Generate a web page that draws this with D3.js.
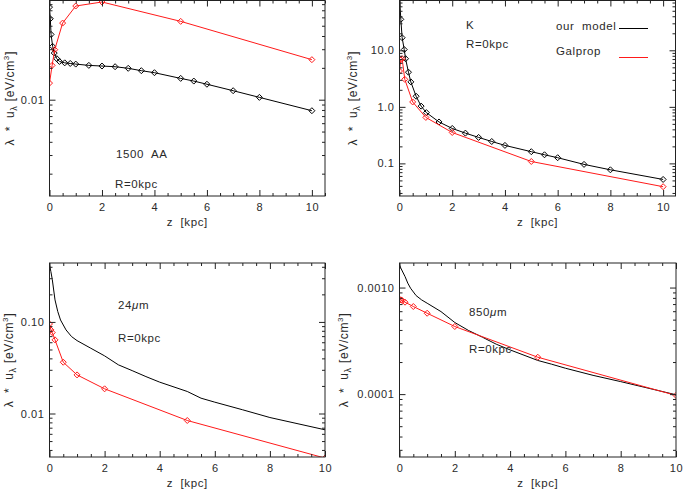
<!DOCTYPE html>
<html><head><meta charset="utf-8">
<script src="https://cdn.jsdelivr.net/npm/d3@7"></script>
<style>
body{margin:0;background:#fff;}
text{font-family:"Liberation Sans",Arial,Helvetica,sans-serif;fill:#2a2a2a;white-space:pre;letter-spacing:0.6px;}
</style></head>
<body>
<script>
// ---------- data ----------
const zModelGrid = [0, 0.05, 0.1, 0.2, 0.3, 0.4, 0.6, 0.8, 1, 1.5, 2, 2.5, 3, 3.5, 4, 5, 5.5, 6, 7, 8, 10];
const zGalpropGrid = [0, 0.05, 0.1, 0.2, 0.5, 1, 2, 5, 10];

const z1500Model = [0, 0.03, 0.06, 0.12, 0.18, 0.28, 0.38, 0.58, 0.79, 1, 1.5, 2, 2.5, 3, 3.5, 4, 5, 5.5, 6, 7, 8, 10];
const u1500Model = [0.075, 0.0582, 0.0414, 0.0319, 0.0276, 0.0244, 0.0230, 0.0223, 0.0220, 0.0217, 0.0211, 0.0208, 0.0205, 0.0198, 0.0188, 0.0180, 0.0159, 0.0150, 0.0140, 0.01216, 0.01052, 0.00787];
const z1500Galprop = [0, 0.1, 0.2, 0.5, 1, 2, 5, 10];
const u1500Galprop = [0.01436, 0.0211, 0.0297, 0.0530, 0.0768, 0.0838, 0.0550, 0.0239];

const zKModel = [0, 0.05, 0.1, 0.18, 0.23, 0.34, 0.43, 0.63, 0.82, 1.02, 1.5, 2, 2.5, 3, 3.5, 4, 5, 5.5, 6, 7, 8, 10];
const uKModel = [90, 35.3, 16.7, 10.3, 7.1, 4.1, 2.76, 1.54, 1.03, 0.79, 0.54, 0.415, 0.343, 0.288, 0.244, 0.208, 0.161, 0.142, 0.126, 0.096, 0.077, 0.052];
const uKGalprop = [4.3, 6.8, 7.1, 3.07, 1.22, 0.65, 0.352, 0.108, 0.0387];

const u24Model = [0.419, 0.354, 0.292, 0.174, 0.130, 0.105, 0.0818, 0.0692, 0.0625, 0.0516, 0.0426, 0.0340, 0.0294, 0.0253, 0.0220, 0.0174, 0.0147, 0.0133, 0.0110, 0.00904, 0.00664];
const u24Galprop = [0.095, 0.0818, 0.0765, 0.0637, 0.0363, 0.0264, 0.0186, 0.00839, 0.00326];

const u850Model = [0.00163, 0.00152, 0.00143, 0.00127, 0.00110, 0.000986, 0.000841, 0.000766, 0.000713, 0.000595, 0.000470, 0.000395, 0.000342, 0.000294, 0.000260, 0.000207, 0.000191, 0.000175, 0.000150, 0.000131, 0.0000986];
const u850Galprop = [0.000778, 0.000766, 0.000755, 0.000729, 0.000664, 0.000574, 0.000431, 0.000222, 0.0000972];

const xTicks = [0, 2, 4, 6, 8, 10];
const yTicks1500 = [0.01], yLabels1500 = ["0.01"];
const yTicksK = [0.1, 1, 10], yLabelsK = ["0.1", "1.0", "10.0"];
const yTicks24 = [0.01, 0.1], yLabels24 = ["0.01", "0.10"];
const yTicks850 = [0.0001, 0.001], yLabels850 = ["0.0001", "0.0010"];
const legendNames = ["our  model", "Galprop"];

// ---------- layout ----------
const panels = [
  {x0:49.5, x1:325, y0:0.5, y1:196, xmax:10.5, ydom:[0.00123,0.0866], ticks:yTicks1500, labels:yLabels1500, titleOff:35.5,
   model:{z:z1500Model,u:u1500Model,marks:true}, gal:{z:z1500Galprop,u:u1500Galprop,marks:true},
   texts:[{t:"1500  AA",x:116,y:158},{t:"R=0kpc",x:115,y:188}]},
  {x0:399.5, x1:675.5, y0:0.5, y1:196, xmax:10.47, ydom:[0.0265,76], ticks:yTicksK, labels:yLabelsK, titleOff:42.5,
   model:{z:zKModel,u:uKModel,marks:true}, gal:{z:zGalpropGrid,u:uKGalprop,marks:true},
   texts:[{t:"K",x:466,y:29},{t:"R=0kpc",x:466,y:48}], legend:true},
  {x0:49.5, x1:325, y0:263, y1:457, xmax:10, ydom:[0.00335,0.44], ticks:yTicks24, labels:yLabels24, titleOff:36.5,
   model:{z:zModelGrid,u:u24Model,marks:false}, gal:{z:zGalpropGrid,u:u24Galprop,marks:true},
   texts:[{t:"24",mu:true,x:118,y:309},{t:"R=0kpc",x:118,y:342}]},
  {x0:399.5, x1:676, y0:263, y1:457, xmax:10, ydom:[2.57e-5,0.0017], ticks:yTicks850, labels:yLabels850, titleOff:52,
   model:{z:zModelGrid,u:u850Model,marks:false}, gal:{z:zGalpropGrid,u:u850Galprop,marks:true},
   texts:[{t:"850",mu:true,x:469,y:316},{t:"R=0kpc",x:469,y:353}]}
];

const RED = "#ff1a1a";
const svg = d3.select("body").append("svg").attr("width",683).attr("height",492);

function minorLog(dom){
  const out=[];
  for(let e=-6;e<=3;e++) for(let k=2;k<=9;k++){const v=k*Math.pow(10,e); if(v>dom[0]&&v<dom[1]) out.push(v);}
  return out;
}
const diamond = (cx,cy,r)=>`M${cx},${cy-r}L${cx+r},${cy}L${cx},${cy+r}L${cx-r},${cy}Z`;

panels.forEach((p,i)=>{
  const x = d3.scaleLinear().domain([0,p.xmax]).range([p.x0,p.x1]);
  const y = d3.scaleLog().domain(p.ydom).range([p.y1,p.y0]);
  const g = svg.append("g");
  const cid = "clip"+i;
  svg.append("clipPath").attr("id",cid).append("rect")
    .attr("x",p.x0).attr("y",p.y0).attr("width",p.x1-p.x0).attr("height",p.y1-p.y0);

  const line = d3.line().x(d=>x(d[0])).y(d=>y(d[1]));
  const plot = g.append("g").attr("clip-path",`url(#${cid})`);
  [[p.model,"#000"],[p.gal,RED]].forEach(([s,c])=>{
    const pts = s.z.map((z,j)=>[z,s.u[j]]);
    plot.append("path").attr("d",line(pts)).attr("fill","none").attr("stroke",c).attr("stroke-width",1);
    if(s.marks){
      plot.selectAll(null).data(pts).enter().append("path")
        .attr("d",d=>diamond(x(d[0]),y(d[1]),3)).attr("fill","none").attr("stroke",c).attr("stroke-width",1);
    }
  });

  // axes
  const minorX = d3.range(0,p.xmax+1e-9,0.5).filter(v=>v%2!==0);
  const styleAx = sel=>{sel.select(".domain").remove(); sel.selectAll("line").attr("stroke","#222");
    sel.selectAll("text").attr("font-size",11).attr("font-family",null).attr("fill","#2a2a2a");};
  g.append("g").attr("transform",`translate(0,${p.y1})`)
    .call(d3.axisBottom(x).tickValues(xTicks).tickSize(-6).tickSizeOuter(0).tickPadding(7).tickFormat(d3.format("d"))).call(styleAx);
  g.append("g").attr("transform",`translate(0,${p.y1})`)
    .call(d3.axisBottom(x).tickValues(minorX).tickSize(-3).tickSizeOuter(0).tickFormat("")).call(styleAx);
  g.append("g").attr("transform",`translate(0,${p.y0})`)
    .call(d3.axisTop(x).tickValues(xTicks).tickSize(-6).tickSizeOuter(0).tickFormat("")).call(styleAx);
  g.append("g").attr("transform",`translate(0,${p.y0})`)
    .call(d3.axisTop(x).tickValues(minorX).tickSize(-3).tickSizeOuter(0).tickFormat("")).call(styleAx);
  g.append("g").attr("transform",`translate(${p.x0},0)`)
    .call(d3.axisLeft(y).tickValues(p.ticks).tickSize(-6).tickSizeOuter(0).tickPadding(5).tickFormat((d,j)=>p.labels[j])).call(styleAx);
  g.append("g").attr("transform",`translate(${p.x0},0)`)
    .call(d3.axisLeft(y).tickValues(minorLog(p.ydom)).tickSize(-3).tickSizeOuter(0).tickFormat("")).call(styleAx);
  g.append("g").attr("transform",`translate(${p.x1},0)`)
    .call(d3.axisRight(y).tickValues(p.ticks).tickSize(-6).tickSizeOuter(0).tickFormat("")).call(styleAx);
  g.append("g").attr("transform",`translate(${p.x1},0)`)
    .call(d3.axisRight(y).tickValues(minorLog(p.ydom)).tickSize(-3).tickSizeOuter(0).tickFormat("")).call(styleAx);
  g.append("rect").attr("x",p.x0).attr("y",p.y0).attr("width",p.x1-p.x0).attr("height",p.y1-p.y0)
    .attr("fill","none").attr("stroke","#222").attr("stroke-width",1);

  // x title
  g.append("text").attr("x",(p.x0+p.x1)/2).attr("y",p.y1+30).attr("text-anchor","middle")
    .attr("font-size",11.5).text("z  [kpc]");
  // y title
  const ty = g.append("text").attr("transform",`translate(${p.x0-p.titleOff},${(p.y0+p.y1)/2}) rotate(-90)`)
    .attr("text-anchor","middle").attr("font-size",12);
  ty.append("tspan").text("λ  *  u");
  ty.append("tspan").attr("font-size",9).attr("dy",3).text("λ");
  ty.append("tspan").attr("dy",-3).attr("font-size",13).text(" [");
  ty.append("tspan").text("eV/cm");
  ty.append("tspan").attr("font-size",8).attr("dy",-5).text("3");
  ty.append("tspan").attr("dy",5).attr("font-size",13).text("]");

  // annotations
  p.texts.forEach(t=>{
    const tx = g.append("text").attr("x",t.x).attr("y",t.y).attr("font-size",11.5);
    tx.append("tspan").text(t.t);
    if(t.mu){ tx.append("tspan").attr("font-style","italic").text("μ"); tx.append("tspan").text("m"); }
  });
  if(p.legend){
    g.append("text").attr("x",556).attr("y",30).attr("font-size",11.5).text(legendNames[0]);
    g.append("line").attr("x1",619).attr("x2",648).attr("y1",28.5).attr("y2",28.5).attr("stroke","#000");
    g.append("text").attr("x",556).attr("y",55).attr("font-size",11.5).text(legendNames[1]);
    g.append("line").attr("x1",619).attr("x2",648).attr("y1",57.5).attr("y2",57.5).attr("stroke",RED);
  }
});
</script>
</body></html>
